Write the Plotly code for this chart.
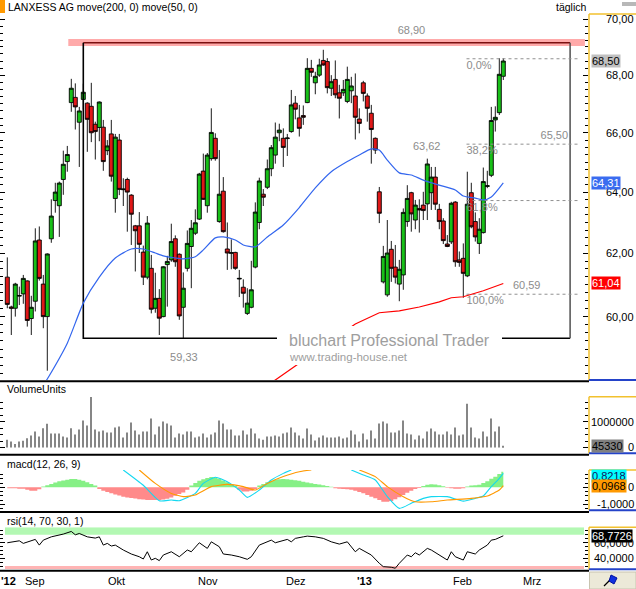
import numpy as np
import plotly.graph_objects as go

W, H = 636, 589
R = 48
PW = W - R  # plot area width in px


def xp(px):
    return px / PW


def yp(py):
    return 1 - py / H


# ---------------- data ----------------
bar_index = list(range(125))
opens = [61.24, 60.30, 60.26, 60.64, 60.71, 61.12, 59.94, 60.48, 62.43, 61.02,
         60.00, 62.47, 63.72, 63.55, 64.42, 65.02, 67.04, 67.22, 66.36, 67.15,
         67.02, 66.91, 66.29, 66.18, 66.19, 65.39, 65.96, 63.79, 65.75, 64.08,
         64.42, 63.90, 62.89, 62.89, 62.04, 61.24, 61.52, 60.26, 60.57, 60.00,
         61.64, 61.79, 62.47, 61.97, 60.29, 61.52, 62.22, 62.65, 63.11, 64.70,
         63.55, 65.12, 65.81, 63.03, 64.03, 62.14, 62.00, 62.03, 61.18, 60.92,
         60.10, 60.29, 61.56, 63.00, 63.93, 64.16, 64.78, 65.24, 66.00, 65.81,
         65.80, 66.04, 67.02, 66.51, 66.59, 67.04, 68.24, 67.73, 68.00, 68.52,
         68.48, 67.54, 67.85, 67.38, 67.38, 67.08, 67.45, 67.27, 66.47, 67.73,
         67.27, 66.67, 65.81, 64.01, 61.09, 60.68, 62.13, 61.56, 61.02, 61.31,
         63.03, 63.98, 63.08, 63.46, 63.57, 63.61, 63.98, 64.50, 63.43, 63.05,
         62.30, 62.37, 63.67, 61.79, 61.84, 61.28, 63.98, 63.03, 62.32, 62.67,
         64.19, 64.56, 66.44, 66.69, 67.96]
highs = [61.87, 60.34, 61.06, 60.94, 61.31, 61.14, 60.65, 62.81, 62.87, 61.31,
         62.00, 63.76, 64.31, 64.35, 65.39, 65.55, 67.87, 67.71, 66.89, 67.70,
         67.05, 67.73, 66.38, 67.08, 66.44, 65.75, 66.44, 65.96, 65.96, 64.46,
         64.48, 63.93, 62.92, 63.34, 62.25, 63.21, 61.95, 61.38, 60.86, 61.59,
         61.92, 62.96, 62.58, 62.00, 61.39, 62.74, 63.08, 63.43, 64.64, 65.29,
         65.31, 66.84, 65.98, 65.41, 64.50, 63.00, 62.45, 62.05, 61.47, 61.17,
         60.89, 61.76, 63.66, 64.48, 64.10, 65.09, 65.58, 66.35, 66.31, 66.15,
         65.96, 67.48, 67.27, 66.96, 66.94, 68.60, 68.54, 68.12, 68.58, 68.90,
         68.60, 68.00, 68.52, 67.66, 67.83, 68.30, 67.94, 68.06, 66.84, 67.80,
         67.36, 66.96, 65.84, 64.17, 62.24, 63.08, 62.40, 62.27, 61.79, 63.46,
         64.23, 64.01, 63.74, 63.76, 64.01, 65.12, 64.84, 64.84, 63.61, 63.14,
         62.59, 63.68, 63.70, 62.06, 62.32, 64.68, 64.31, 63.33, 63.14, 64.82,
         64.71, 66.89, 66.91, 68.60, 68.60]
lows = [60.26, 59.43, 60.00, 60.36, 60.40, 59.69, 59.43, 60.16, 61.13, 59.64,
        58.34, 62.34, 63.32, 62.53, 63.91, 64.68, 66.72, 66.11, 64.84, 66.80,
        65.35, 65.68, 65.09, 65.71, 64.71, 65.24, 64.35, 63.32, 63.90, 63.54,
        62.70, 62.27, 61.42, 62.01, 60.99, 61.17, 60.10, 60.12, 59.43, 59.98,
        60.31, 61.73, 61.57, 59.90, 59.33, 61.42, 60.89, 62.59, 63.08, 63.74,
        63.32, 65.05, 65.05, 62.99, 62.67, 61.47, 61.49, 61.47, 60.61, 60.28,
        60.05, 60.26, 61.52, 62.78, 63.54, 64.10, 64.53, 64.95, 65.71, 64.84,
        65.21, 66.00, 66.46, 65.87, 66.27, 67.02, 67.94, 67.33, 67.94, 68.33,
        67.36, 67.27, 67.19, 66.49, 67.27, 67.02, 67.02, 65.77, 65.98, 67.08,
        66.38, 64.95, 65.28, 62.98, 61.04, 60.62, 61.09, 61.04, 60.48, 60.84,
        62.86, 62.70, 62.78, 62.67, 63.08, 63.08, 63.41, 63.41, 62.78, 62.30,
        62.20, 62.30, 61.57, 61.57, 60.59, 61.24, 62.81, 62.38, 61.98, 62.64,
        64.13, 64.50, 66.04, 66.61, 67.83]
closes = [60.38, 60.26, 61.02, 60.66, 61.20, 59.88, 60.29, 62.40, 61.20, 60.00,
          61.98, 63.21, 64.00, 64.30, 64.93, 65.26, 67.54, 66.89, 66.75, 67.40,
          66.46, 66.00, 66.04, 67.06, 65.02, 65.55, 64.53, 65.85, 64.09, 64.10,
          64.00, 63.27, 62.73, 62.29, 61.24, 62.98, 60.23, 60.57, 59.95, 61.57,
          61.74, 62.38, 61.73, 60.02, 60.89, 62.32, 62.81, 62.99, 64.60, 63.76,
          65.24, 66.01, 65.12, 63.93, 62.70, 62.01, 62.02, 61.52, 61.20, 60.73,
          60.42, 60.84, 63.34, 64.37, 63.83, 64.78, 65.49, 65.85, 66.09, 65.50,
          65.82, 66.96, 66.81, 66.15, 66.53, 68.24, 68.10, 67.96, 68.36, 68.36,
          67.56, 67.77, 67.31, 67.19, 67.50, 67.85, 67.62, 66.53, 66.32, 67.36,
          66.84, 66.11, 65.41, 63.30, 61.90, 62.01, 61.52, 61.24, 61.49, 63.33,
          63.79, 63.28, 63.57, 63.41, 63.39, 64.94, 64.50, 63.60, 63.03, 62.41,
          62.22, 63.63, 61.73, 61.71, 61.36, 63.60, 62.86, 62.53, 62.78, 64.35,
          64.21, 66.42, 66.53, 68.03, 68.50]
volume = [300000, 230000, 140000, 230000, 260000, 360000, 470000, 620000, 430000, 750000,
          920000, 540000, 540000, 540000, 430000, 390000, 750000, 510000, 700000, 1050000,
          860000, 1970000, 700000, 620000, 660000, 580000, 580000, 780000, 820000, 390000,
          580000, 970000, 660000, 510000, 620000, 620000, 1130000, 510000, 820000, 1010000,
          930000, 860000, 390000, 540000, 510000, 620000, 620000, 390000, 430000, 540000,
          390000, 510000, 580000, 1050000, 930000, 700000, 700000, 470000, 470000, 660000,
          510000, 740000, 540000, 350000, 300000, 430000, 430000, 470000, 430000, 540000,
          580000, 780000, 580000, 470000, 350000, 740000, 510000, 270000, 390000, 470000,
          390000, 390000, 390000, 430000, 350000, 390000, 660000, 510000, 230000, 540000,
          310000, 660000, 350000, 930000, 1010000, 930000, 580000, 580000, 660000, 1050000,
          540000, 510000, 310000, 470000, 350000, 620000, 740000, 620000, 510000, 510000,
          620000, 510000, 780000, 470000, 510000, 1700000, 780000, 390000, 350000, 620000,
          430000, 1130000, 620000, 820000, 45330]
ma50_x = [9, 10, 15, 19, 23, 27, 31, 34, 37, 39, 42, 44, 47, 49, 52, 54, 57, 59, 62, 65,
          69, 73, 77, 81, 85, 88, 91, 93, 95, 98, 101, 104, 108, 112, 114, 117, 119, 121, 124]
ma50 = [57.90, 58.09, 59.18, 60.42, 61.24, 61.85, 62.14, 62.14, 62.01, 61.92,
        61.85, 61.82, 61.89, 62.11, 62.50, 62.53, 62.43, 62.27, 62.21, 62.53,
        62.92, 63.49, 64.14, 64.68, 65.02, 65.24, 65.45, 65.41, 65.07, 64.64,
        64.57, 64.40, 64.23, 64.07, 63.87, 63.80, 63.74, 63.84, 64.31]
ma200_x = [64, 67, 72, 87, 93, 98, 103, 108, 111, 114, 119, 124]
ma200 = [57.90, 58.06, 58.48, 59.77, 60.12, 60.18, 60.30, 60.46, 60.59, 60.62, 60.81, 61.04]
macd_hist = [-0.05, -0.05, -0.06, -0.08, -0.08, -0.15, -0.2, -0.2, -0.12,
             0.05, 0.12, 0.2, 0.28, 0.35, 0.4, 0.45, 0.49, 0.49, 0.45, 0.38, 0.3, 0.2, 0.1,
             -0.1, -0.2, -0.28, -0.35, -0.42, -0.48, -0.55, -0.6, -0.63, -0.66, -0.7, -0.72,
             -0.74, -0.75, -0.75, -0.74, -0.72, -0.68, -0.6, -0.5, -0.4, -0.3, -0.15,
             0.1, 0.25, 0.38, 0.48, 0.55, 0.6, 0.58, 0.5, 0.4, 0.3, 0.2, 0.08,
             -0.15, -0.25, -0.25, -0.2, -0.1,
             0.1, 0.2, 0.3, 0.38, 0.44, 0.48, 0.49, 0.48, 0.45, 0.42, 0.38, 0.33, 0.28,
             0.24, 0.2, 0.16, 0.12, 0.08, 0.04,
             -0.05, -0.08, -0.1, -0.12, -0.15, -0.2, -0.28, -0.35, -0.45, -0.55, -0.65,
             -0.75, -0.85, -0.85, -0.8, -0.7, -0.58, -0.45, -0.32, -0.2, -0.1, -0.04,
             0.08, 0.15, 0.18, 0.16, 0.12, 0.06,
             -0.03, -0.06, -0.08, -0.08, -0.05,
             0.05, 0.1, 0.12, 0.15, 0.25, 0.35, 0.5, 0.62, 0.78, 0.92]
macd_x = [29, 34, 38, 41, 43, 47, 49, 52, 55, 58, 60, 63, 66, 69, 71, 78, 86, 89, 92, 95,
          98, 101, 104, 106, 110, 114, 117, 119, 121, 123, 124]
macd_line = [1.02, 0.12, -0.79, -0.75, -0.79, -0.36, 0.23, 0.59, 0.33, -0.16, -0.59, -0.16,
             0.43, 0.82, 1.02, None, 1.02, 0.72, 0.43, -0.55, -1.24, -0.94, -0.65, -0.55,
             -0.55, -0.81, -0.65, -0.51, 0.04, 0.53, 0.8218]
signal_x = [33, 37, 41, 44, 47, 51, 55, 59, 62, 65, 69, 73, 76, 82, 88, 92, 95, 99, 102,
            106, 110, 116, 120, 123, 124]
signal_line = [1.02, 0.23, -0.36, -0.55, -0.45, 0.04, 0.17, 0.04, -0.16, 0.23, 0.63, 0.92,
               1.02, None, 1.02, 0.63, 0.04, -0.55, -0.85, -0.85, -0.75, -0.65, -0.51,
               -0.16, 0.0968]
rsi_x = [0, 2, 3, 4, 5, 7, 8, 9, 11, 14, 16, 17, 18, 20, 22, 23, 24, 25, 26, 27,
         29, 31, 33, 34, 35, 36, 37, 38, 39, 41, 43, 45, 46, 48, 50, 51, 53, 54, 56, 58,
         60, 61, 63, 64, 66, 67, 69, 70, 71, 72, 74, 75, 77, 79, 81, 83, 85, 87, 88, 90,
         91, 93, 94, 96, 97, 98, 100, 101, 102, 103, 105, 106, 108, 109, 110, 111, 112,
         114, 115, 117, 118, 120, 121, 122, 124]
rsi = [59.9, 61.1, 62.4, 59.1, 61.1, 64.2, 56.9, 63.3, 67.5, 71.0, 74.4, 70.1, 71.8, 67.5,
       65.9, 67.5, 56.9, 59.1, 55.7, 56.9, 50.6, 45.5, 42.0, 39.1, 48.4, 37.8, 40.0, 37.0,
       44.2, 48.4, 42.0, 50.6, 48.4, 59.9, 52.7, 61.1, 54.8, 45.5, 44.2, 42.0, 38.7, 42.0,
       56.9, 59.1, 63.3, 59.9, 63.3, 64.2, 61.1, 65.5, 67.5, 68.4, 67.5, 65.5, 61.1, 58.2,
       61.1, 48.4, 52.7, 47.1, 44.2, 33.6, 29.3, 28.5, 27.3, 33.6, 44.2, 42.0, 47.1, 44.2,
       52.7, 50.6, 44.2, 40.0, 37.8, 48.4, 42.0, 37.8, 48.4, 45.5, 50.6, 56.9, 63.3, 64.2,
       68.8]

# drawn objects in the price panel
resist_level = 69.16          # pink band
resist_x = [15.25, 144.4]
box_top, box_bottom = 69.15, 59.33
box_x = [19, 140.7]
fib_levels = [68.58, 65.61, 63.72, 60.70]
fib_x = [114.8, 143.2]
label_texts = ["68,90", "59,33", "63,62", "0,0%", "38,2%", "61,8%", "100,0%", "60,59"]
label_x = [97.6, 40.7, 101.4, 114.8, 114.8, 114.8, 114.8, 126.4]
label_y = [69.57, 58.72, 65.52, 68.30, 65.36, 63.47, 60.47, 60.96]

month_labels = ["<b>'12</b>", "Sep", "Okt", "Nov", "Dez", "<b>'13</b>", "Feb", "Mrz"]
month_pos = [-1.8, 6.9, 27.3, 50.2, 72.2, 89.4, 113.9, 131.2]

price_ticks = [60, 62, 64, 66, 68, 70]
price_tick_text = ["60,00", "62,00", "64,00", "66,00", "68,00", "70,00"]
vol_ticks = [0, 1000000]
vol_tick_text = ["0", "1000000"]
macd_ticks = [-1, 0]
macd_tick_text = ["-1,0000", "0"]
rsi_ticks = [40, 60]
rsi_tick_text = ["40,0000", "60,0000"]

# ---------------- figure ----------------
FONT = "Arial, Liberation Sans, sans-serif"
GRAY = "#8c8c8c"
fig = go.Figure()

fig.add_trace(go.Scatter(x=resist_x, y=[resist_level] * 2, mode="lines",
                         line=dict(color="#FFAAAA", width=7), hoverinfo="skip"))
fig.add_trace(go.Scatter(x=box_x, y=[box_top] * 2, mode="lines",
                         line=dict(color="#7a1010", width=1.5), hoverinfo="skip"))
fig.add_trace(go.Scatter(x=[box_x[0], box_x[0], box_x[1]], y=[box_top, box_bottom, box_bottom],
                         mode="lines", line=dict(color="black", width=1.6), hoverinfo="skip"))
fig.add_trace(go.Scatter(x=[box_x[1], box_x[1]], y=[box_top, box_bottom], mode="lines",
                         line=dict(color="#505050", width=1.5), hoverinfo="skip"))
for lv in fib_levels:
    fig.add_trace(go.Scatter(x=fib_x, y=[lv, lv], mode="lines",
                             line=dict(color="#909090", width=1, dash="dot"), hoverinfo="skip"))
fig.add_trace(go.Scatter(x=ma200_x, y=ma200, mode="lines",
                         line=dict(color="#FF0000", width=1.2), hoverinfo="skip"))
fig.add_trace(go.Scatter(x=ma50_x, y=ma50, mode="lines",
                         line=dict(color="#3366EE", width=1.2, shape="spline", smoothing=0.6),
                         hoverinfo="skip"))
fig.add_trace(go.Candlestick(
    x=bar_index, open=opens, high=highs, low=lows, close=closes,
    increasing=dict(line=dict(color="black", width=0.9), fillcolor="#18C018"),
    decreasing=dict(line=dict(color="black", width=0.9), fillcolor="#E01818"),
    whiskerwidth=0, hoverinfo="skip"))
fig.add_trace(go.Scatter(x=label_x[:7], y=label_y[:7],
                         mode="text", text=label_texts[:7],
                         textposition="middle right",
                         textfont=dict(family=FONT, size=11, color=GRAY), hoverinfo="skip"))
fig.add_trace(go.Scatter(x=[label_x[7]], y=[label_y[7]], mode="text", text=[label_texts[7]],
                         textposition="middle right",
                         textfont=dict(family=FONT, size=11, color=GRAY), hoverinfo="skip"))
fig.add_trace(go.Scatter(x=[140.2], y=[65.89], mode="text", text=["65,50"],
                         textposition="middle left",
                         textfont=dict(family=FONT, size=11, color=GRAY), hoverinfo="skip"))

# volume
fig.add_trace(go.Bar(x=bar_index, y=volume, width=0.28,
                     marker=dict(color="#868686", line=dict(width=0)),
                     yaxis="y2", hoverinfo="skip"))
# macd histogram as solid stepped areas (positive green, negative salmon)
hist_pos = [v if v > 0 else 0 for v in macd_hist]
hist_neg = [v if v < 0 else 0 for v in macd_hist]
fig.add_trace(go.Scatter(x=bar_index, y=hist_pos, mode="lines", yaxis="y3",
                         line=dict(width=0, shape="hvh", color="#86F086"),
                         fill="tozeroy", fillcolor="#86F086", hoverinfo="skip"))
fig.add_trace(go.Scatter(x=bar_index, y=hist_neg, mode="lines", yaxis="y3",
                         line=dict(width=0, shape="hvh", color="#FF8A8A"),
                         fill="tozeroy", fillcolor="#FF8A8A", hoverinfo="skip"))
fig.add_trace(go.Scatter(x=macd_x, y=macd_line, mode="lines", yaxis="y3",
                         line=dict(color="#14D8F0", width=1.1, shape="spline", smoothing=0.5),
                         connectgaps=False, hoverinfo="skip"))
fig.add_trace(go.Scatter(x=signal_x, y=signal_line, mode="lines", yaxis="y3",
                         line=dict(color="#FF9900", width=1.1, shape="spline", smoothing=0.5),
                         connectgaps=False, hoverinfo="skip"))
# rsi
fig.add_trace(go.Scatter(x=rsi_x, y=rsi, mode="lines", yaxis="y4",
                         line=dict(color="black", width=1), hoverinfo="skip"))

# ---------------- axes ----------------
def yaxis(dom_px, rng, ticks, minor, typ="linear"):
    return dict(domain=[yp(dom_px[1]), yp(dom_px[0])], range=rng, type=typ, side="right",
                anchor="x", tickmode="array", tickvals=ticks, showticklabels=False,
                ticks="inside", ticklen=5, tickcolor="black", tickwidth=1, mirror="ticks",
                showgrid=False, zeroline=False, showline=False, fixedrange=True,
                minor=dict(tickmode="array", tickvals=minor, ticks="inside", ticklen=3,
                           tickcolor="black", tickwidth=1, showgrid=False))

main_minor = [58.25 + 0.25 * k for k in range(48)]
fig.update_layout(
    width=W, height=H, margin=dict(l=0, r=R, t=0, b=0),
    paper_bgcolor="white", plot_bgcolor="white", showlegend=False,
    barmode="overlay", boxgap=0.0, boxgroupgap=0.0,
    xaxis=dict(range=[-1.825, 145.175], visible=False, rangeslider=dict(visible=False),
               fixedrange=True),
    yaxis=yaxis((14, 380), [np.log10(58.06), np.log10(70.19)], price_ticks, main_minor, "log"),
    yaxis2=yaxis((396.7, 453.3), [-226000, 1977000], vol_ticks,
                 [250000 * k for k in range(8)]),
    yaxis3=yaxis((470, 510), [-1.335, 1.018], macd_ticks, [-1.25 + 0.25 * k for k in range(10)]),
    yaxis4=yaxis((527.3, 569), [26.3, 79.7], rsi_ticks, [30 + 5 * k for k in range(10)]),
)

# ---------------- decorations ----------------
shapes = []
YEL = "#F2C12E"
BLU = "#2443C9"


def pline(x0, y0, x1, y1, color, w):
    shapes.append(dict(type="line", xref="paper", yref="paper", x0=xp(x0), y0=yp(y0),
                       x1=xp(x1), y1=yp(y1), line=dict(color=color, width=w)))


def prect(x0, y0, x1, y1, fill, lc=None, layer="above"):
    shapes.append(dict(type="rect", xref="paper", yref="paper", x0=xp(x0), y0=yp(y0),
                       x1=xp(x1), y1=yp(y1), fillcolor=fill, layer=layer,
                       line=dict(color=lc or fill, width=1 if lc else 0)))


# rsi bands
shapes.append(dict(type="rect", xref="paper", yref="y4", x0=xp(5), x1=xp(584), y0=70, y1=79.7,
                   fillcolor="#B3F8B3", line=dict(width=0), layer="below"))
shapes.append(dict(type="rect", xref="paper", yref="y4", x0=xp(5), x1=xp(584), y0=26.3, y1=30,
                   fillcolor="#FFB4B4", line=dict(width=0), layer="below"))
# watermark background
prect(277, 326, 502, 365, "white")
# orange marker + top-right icon
prect(0, 0, 5, 13, "#FF9900")
prect(622, 2, 636, 6, "#B8B8B8")
# right axis frames
for top, bot in [(14, 380), (396.7, 453.3), (470, 510.3), (527.3, 569.3)]:
    pline(589, top, 636, top, YEL, 1.5)
    pline(589, top, 589, bot, YEL, 1.5)
    pline(589, bot, 636, bot, BLU, 2)
# panel separators
for y in [381.3, 454.8, 512.0, 570.7]:
    pline(0, y, 589, y, "black", 2)
# bottom-right button
prect(589.5, 572, 636, 589, "#ECE9D8", "#C8C4B0")
pline(604, 586, 613, 577, "black", 1.3)
shapes.append(dict(type="path", xref="paper", yref="paper",
                   path=f"M {xp(611)},{yp(575)} L {xp(617)},{yp(578)} L {xp(614)},{yp(584)} L {xp(609)},{yp(581)} Z",
                   fillcolor="#1030E0", line=dict(color="#0010A0", width=1)))
fig.update_layout(shapes=shapes)

ann = []


def text(x, y, s, size=11, color="black", xanchor="left", xref="paper", yref="paper",
         bg=None, font=FONT):
    d = dict(x=x, y=y, xref=xref, yref=yref, text=s, showarrow=False, xanchor=xanchor,
             yanchor="middle", font=dict(family=font, size=size, color=color), borderpad=0)
    if bg:
        d["bgcolor"] = bg
    ann.append(d)


text(xp(7), yp(7), "LANXESS AG move(200, 0) move(50, 0)", size=10.5)
text(xp(555), yp(7), "täglich", size=10.5)
text(xp(6), yp(389), "VolumeUnits", size=10.5)
text(xp(6), yp(464), "macd(12, 26, 9)", size=10.5)
text(xp(6), yp(521), "rsi(14, 70, 30, 1)", size=10.5)

# watermark
text(xp(288), yp(340), "bluchart Professional Trader", size=16, color="#9E9E9E")
text(xp(288), yp(356.5), "www.trading-house.net", size=11.5, color="#9E9E9E")

# right tick labels
RX = xp(635)
for v, s in zip(price_ticks, price_tick_text):
    text(RX, np.log10(v), s, xanchor="right", yref="y")
for v, s in zip(vol_ticks, vol_tick_text):
    text(RX, v, s, xanchor="right", yref="y2")
for v, s in zip(macd_ticks, macd_tick_text):
    text(RX, v, s, xanchor="right", yref="y3")
for v, s in zip(rsi_ticks, rsi_tick_text):
    text(RX, v, s, xanchor="right", yref="y4")

# value boxes
LX = xp(590.5)
text(LX, np.log10(closes[-1]), "68,50", yref="y", bg="#C0C0C0")
text(LX, np.log10(ma50[-1]), "64,31", yref="y", bg="#3A6CF0", color="white")
text(LX, np.log10(ma200[-1]), "61,04", yref="y", bg="#FF0000", color="white")
text(LX, volume[-1] + 20000, "45330", yref="y2", bg="#808080")
text(LX, 0.66, "0,8218", yref="y3", bg="#00FFFF", color="#101060")
text(LX, signal_line[-1], "0,0968", yref="y3", bg="#FF9900")
text(LX, rsi[-1] - 0.6, "68,7726", yref="y4", bg="black", color="white")

# month labels
for s, p in zip(month_labels, month_pos):
    text(p, yp(580.7), s, xanchor="left" if p < 0 else "center", xref="x")

fig.update_layout(annotations=ann)
fig.write_html("out.html")
